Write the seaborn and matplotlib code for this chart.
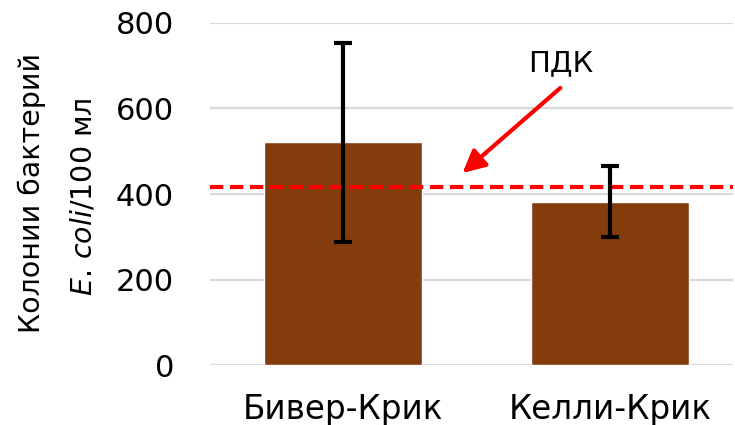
import numpy as np
import pandas as pd
import matplotlib
matplotlib.use('Agg')
import matplotlib.pyplot as plt
import seaborn as sns

# данные
sites = ['Бивер-Крик', 'Келли-Крик']
colonies = [521, 382]
err_low = [288, 299]
err_high = [753, 466]
pdk = 416
yticks = [0, 200, 400, 600, 800]

sns.set_style('white')
plt.rcParams['font.family'] = ['DejaVu Sans']
plt.rcParams['mathtext.fontset'] = 'custom'
plt.rcParams['mathtext.it'] = 'DejaVu Sans:italic'
plt.rcParams['mathtext.rm'] = 'DejaVu Sans'
plt.rcParams['text.color'] = 'black'
plt.rcParams['xtick.color'] = 'black'
plt.rcParams['ytick.color'] = 'black'

df = pd.DataFrame({'site': sites, 'colonies': colonies})

fig = plt.figure(figsize=(7.35, 4.25), dpi=100)
ax = fig.add_axes([0.2857, 0.141, 0.711, 0.805])

sns.barplot(data=df, x='site', y='colonies', color='#843C0C', saturation=1,
            width=0.593, ax=ax, zorder=2)

yerr = np.array([np.array(colonies) - np.array(err_low),
                 np.array(err_high) - np.array(colonies)])
ax.errorbar(np.arange(len(sites)), colonies, yerr=yerr, fmt='none',
            ecolor='black', elinewidth=3, capsize=6.5, capthick=3, zorder=4)

ax.axhline(pdk, color='#ff0000', lw=3, dashes=(3.2, 1.6), zorder=3)

# подпись ПДК и стрелка
ax.text(0.814, 706, 'ПДК', ha='center', va='center', fontsize=21)
ax.annotate('', xy=(0.447, 449), xytext=(0.814, 648),
            arrowprops=dict(arrowstyle='-|>', color='#ff0000', lw=3,
                            mutation_scale=34, shrinkA=0, shrinkB=0))

ax.set_xlim(-0.5, 1.46)
ax.set_ylim(0, 800)
ax.set_yticks(yticks)
ax.yaxis.grid(True, color='#d9d9d9', lw=1.6, zorder=0)
ax.set_axisbelow(True)
for s in ax.spines.values():
    s.set_visible(False)
ax.tick_params(axis='y', labelsize=22, pad=26, length=0)
ax.tick_params(axis='x', labelsize=23.5, pad=20, length=0)
ax.set_xlabel('')
ax.set_ylabel('')

fig.text(0.043, 0.545, 'Колонии бактерий', rotation=90, ha='center', va='center', fontsize=20.5)
fig.text(0.113, 0.536, r'$\mathit{E.\,coli}$/100 мл', rotation=90, ha='center', va='center', fontsize=20.5)

fig.savefig('out.png', dpi=100)
